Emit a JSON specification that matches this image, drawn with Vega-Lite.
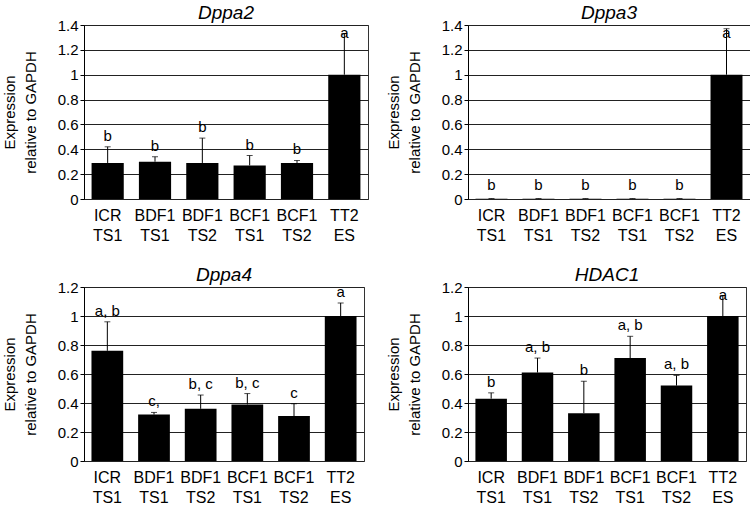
{
  "$schema": "https://vega.github.io/schema/vega-lite/v6.json",
  "background": "white",
  "padding": {"left": 1, "top": 3, "right": 2, "bottom": 0},
  "config": {
    "font": "Liberation Sans",
    "view": {"stroke": "#333", "strokeWidth": 1},
    "title": {"fontSize": 19, "fontStyle": "italic", "fontWeight": "normal", "color": "black", "offset": -5},
    "axis": {"domainColor": "black", "gridColor": "#222", "gridWidth": 1, "tickColor": "black", "labelColor": "black", "titleColor": "black", "labelFont": "Liberation Sans", "titleFont": "Liberation Sans"}
  },
  "spacing": {"row": 21, "column": 16},
  "data": {"values": [
    {"gene": "Dppa2", "group": "ICR TS1", "value": 0.29, "err": 0.42, "label": "b"},
    {"gene": "Dppa2", "group": "BDF1 TS1", "value": 0.30, "err": 0.34, "label": "b"},
    {"gene": "Dppa2", "group": "BDF1 TS2", "value": 0.29, "err": 0.49, "label": "b"},
    {"gene": "Dppa2", "group": "BCF1 TS1", "value": 0.27, "err": 0.35, "label": "b"},
    {"gene": "Dppa2", "group": "BCF1 TS2", "value": 0.29, "err": 0.31, "label": "b"},
    {"gene": "Dppa2", "group": "TT2 ES", "value": 1.0, "err": 1.33, "label": "a"},
    {"gene": "Dppa3", "group": "ICR TS1", "value": 0.002, "err": 0.004, "label": "b"},
    {"gene": "Dppa3", "group": "BDF1 TS1", "value": 0.002, "err": 0.004, "label": "b"},
    {"gene": "Dppa3", "group": "BDF1 TS2", "value": 0.002, "err": 0.004, "label": "b"},
    {"gene": "Dppa3", "group": "BCF1 TS1", "value": 0.002, "err": 0.004, "label": "b"},
    {"gene": "Dppa3", "group": "BCF1 TS2", "value": 0.002, "err": 0.004, "label": "b"},
    {"gene": "Dppa3", "group": "TT2 ES", "value": 1.0, "err": 1.37, "label": "a"},
    {"gene": "Dppa4", "group": "ICR TS1", "value": 0.76, "err": 0.96, "label": "a, b"},
    {"gene": "Dppa4", "group": "BDF1 TS1", "value": 0.32, "err": 0.335, "label": "c,"},
    {"gene": "Dppa4", "group": "BDF1 TS2", "value": 0.36, "err": 0.455, "label": "b, c"},
    {"gene": "Dppa4", "group": "BCF1 TS1", "value": 0.39, "err": 0.465, "label": "b, c"},
    {"gene": "Dppa4", "group": "BCF1 TS2", "value": 0.31, "err": 0.395, "label": "c"},
    {"gene": "Dppa4", "group": "TT2 ES", "value": 1.0, "err": 1.09, "label": "a"},
    {"gene": "HDAC1", "group": "ICR TS1", "value": 0.43, "err": 0.47, "label": "b"},
    {"gene": "HDAC1", "group": "BDF1 TS1", "value": 0.61, "err": 0.71, "label": "a, b"},
    {"gene": "HDAC1", "group": "BDF1 TS2", "value": 0.33, "err": 0.55, "label": "b"},
    {"gene": "HDAC1", "group": "BCF1 TS1", "value": 0.71, "err": 0.86, "label": "a, b"},
    {"gene": "HDAC1", "group": "BCF1 TS2", "value": 0.52, "err": 0.59, "label": "a, b"},
    {"gene": "HDAC1", "group": "TT2 ES", "value": 1.0, "err": 1.14, "label": "a"}
  ]},
  "columns": 2,
  "concat": [
    {
      "title": "Dppa2",
      "width": 284, "height": 174,
      "transform": [{"filter": "datum.gene === 'Dppa2'"}],
      "encoding": {
        "x": {"field": "group", "type": "nominal", "sort": null, "scale": {"paddingInner": 0.32, "paddingOuter": 0.16}, "axis": {"title": null, "labelAngle": 0, "labelFontSize": 16, "labelLineHeight": 20, "labelExpr": "split(datum.label, ' ')", "ticks": false, "labelPadding": 8, "domain": false}},
        "y": {"type": "quantitative", "scale": {"domain": [0, 1.4]}, "axis": {"values": [0, 0.2, 0.4, 0.6, 0.8, 1, 1.2, 1.4], "format": "~g", "labelFontSize": 15, "title": ["Expression", "relative to GAPDH"], "titleFontSize": 15, "titleFontWeight": "normal", "titleLineHeight": 21, "titlePadding": 19, "tickSize": 4, "grid": true}}
      },
      "layer": [
        {"mark": {"type": "bar", "color": "black"}, "encoding": {"y": {"field": "value"}}},
        {"mark": {"type": "rule", "color": "black", "strokeWidth": 1}, "encoding": {"y": {"field": "value"}, "y2": {"field": "err"}}},
        {"mark": {"type": "tick", "color": "black", "size": 6, "thickness": 1}, "encoding": {"y": {"field": "err"}}},
        {"transform": [{"filter": "datum.group !== 'TT2 ES'"}], "mark": {"type": "text", "fontSize": 15, "baseline": "bottom", "dy": -3, "color": "black"}, "encoding": {"y": {"field": "err"}, "text": {"field": "label"}}},
        {"transform": [{"filter": "datum.group === 'TT2 ES'"}], "mark": {"type": "text", "fontSize": 15, "baseline": "top", "dy": -8, "color": "black"}, "encoding": {"y": {"field": "err"}, "text": {"field": "label"}}}
      ]
    },
    {
      "title": "Dppa3",
      "width": 282, "height": 174,
      "transform": [{"filter": "datum.gene === 'Dppa3'"}],
      "encoding": {
        "x": {"field": "group", "type": "nominal", "sort": null, "scale": {"paddingInner": 0.32, "paddingOuter": 0.16}, "axis": {"title": null, "labelAngle": 0, "labelFontSize": 16, "labelLineHeight": 20, "labelExpr": "split(datum.label, ' ')", "ticks": false, "labelPadding": 8, "domain": false}},
        "y": {"type": "quantitative", "scale": {"domain": [0, 1.4]}, "axis": {"values": [0, 0.2, 0.4, 0.6, 0.8, 1, 1.2, 1.4], "format": "~g", "labelFontSize": 15, "title": ["Expression", "relative to GAPDH"], "titleFontSize": 15, "titleFontWeight": "normal", "titleLineHeight": 21, "titlePadding": 19, "tickSize": 4, "grid": true}}
      },
      "layer": [
        {"mark": {"type": "bar", "color": "black"}, "encoding": {"y": {"field": "value"}}},
        {"mark": {"type": "rule", "color": "black", "strokeWidth": 1}, "encoding": {"y": {"field": "value"}, "y2": {"field": "err"}}},
        {"mark": {"type": "tick", "color": "black", "size": 6, "thickness": 1}, "encoding": {"y": {"field": "err"}}},
        {"transform": [{"filter": "datum.group !== 'TT2 ES'"}], "mark": {"type": "text", "fontSize": 15, "baseline": "bottom", "dy": -6, "color": "black"}, "encoding": {"y": {"field": "err"}, "text": {"field": "label"}}},
        {"transform": [{"filter": "datum.group === 'TT2 ES'"}], "mark": {"type": "text", "fontSize": 15, "baseline": "top", "dy": -3, "color": "black"}, "encoding": {"y": {"field": "err"}, "text": {"field": "label"}}}
      ]
    },
    {
      "title": "Dppa4",
      "width": 280, "height": 174,
      "transform": [{"filter": "datum.gene === 'Dppa4'"}],
      "encoding": {
        "x": {"field": "group", "type": "nominal", "sort": null, "scale": {"paddingInner": 0.32, "paddingOuter": 0.16}, "axis": {"title": null, "labelAngle": 0, "labelFontSize": 16, "labelLineHeight": 20, "labelExpr": "split(datum.label, ' ')", "ticks": false, "labelPadding": 8, "domain": false}},
        "y": {"type": "quantitative", "scale": {"domain": [0, 1.2]}, "axis": {"values": [0, 0.2, 0.4, 0.6, 0.8, 1, 1.2], "format": "~g", "labelFontSize": 15, "title": ["Expression", "relative to GAPDH"], "titleFontSize": 15, "titleFontWeight": "normal", "titleLineHeight": 21, "titlePadding": 19, "tickSize": 4, "grid": true}}
      },
      "layer": [
        {"mark": {"type": "bar", "color": "black"}, "encoding": {"y": {"field": "value"}}},
        {"mark": {"type": "rule", "color": "black", "strokeWidth": 1}, "encoding": {"y": {"field": "value"}, "y2": {"field": "err"}}},
        {"mark": {"type": "tick", "color": "black", "size": 6, "thickness": 1}, "encoding": {"y": {"field": "err"}}},
        {"mark": {"type": "text", "fontSize": 15, "baseline": "bottom", "dy": -3, "color": "black"}, "encoding": {"y": {"field": "err"}, "text": {"field": "label"}}}
      ]
    },
    {
      "title": "HDAC1",
      "width": 278, "height": 174,
      "transform": [{"filter": "datum.gene === 'HDAC1'"}],
      "encoding": {
        "x": {"field": "group", "type": "nominal", "sort": null, "scale": {"paddingInner": 0.32, "paddingOuter": 0.16}, "axis": {"title": null, "labelAngle": 0, "labelFontSize": 16, "labelLineHeight": 20, "labelExpr": "split(datum.label, ' ')", "ticks": false, "labelPadding": 8, "domain": false}},
        "y": {"type": "quantitative", "scale": {"domain": [0, 1.2]}, "axis": {"values": [0, 0.2, 0.4, 0.6, 0.8, 1, 1.2], "format": "~g", "labelFontSize": 15, "title": ["Expression", "relative to GAPDH"], "titleFontSize": 15, "titleFontWeight": "normal", "titleLineHeight": 21, "titlePadding": 19, "tickSize": 4, "grid": true}}
      },
      "layer": [
        {"mark": {"type": "bar", "color": "black"}, "encoding": {"y": {"field": "value"}}},
        {"mark": {"type": "rule", "color": "black", "strokeWidth": 1}, "encoding": {"y": {"field": "value"}, "y2": {"field": "err"}}},
        {"mark": {"type": "tick", "color": "black", "size": 6, "thickness": 1}, "encoding": {"y": {"field": "err"}}},
        {"transform": [{"filter": "datum.group !== 'TT2 ES'"}], "mark": {"type": "text", "fontSize": 15, "baseline": "bottom", "dy": -3, "color": "black"}, "encoding": {"y": {"field": "err"}, "text": {"field": "label"}}},
        {"transform": [{"filter": "datum.group === 'TT2 ES'"}], "mark": {"type": "text", "fontSize": 15, "baseline": "top", "dy": -8, "color": "black"}, "encoding": {"y": {"field": "err"}, "text": {"field": "label"}}}
      ]
    }
  ]
}
